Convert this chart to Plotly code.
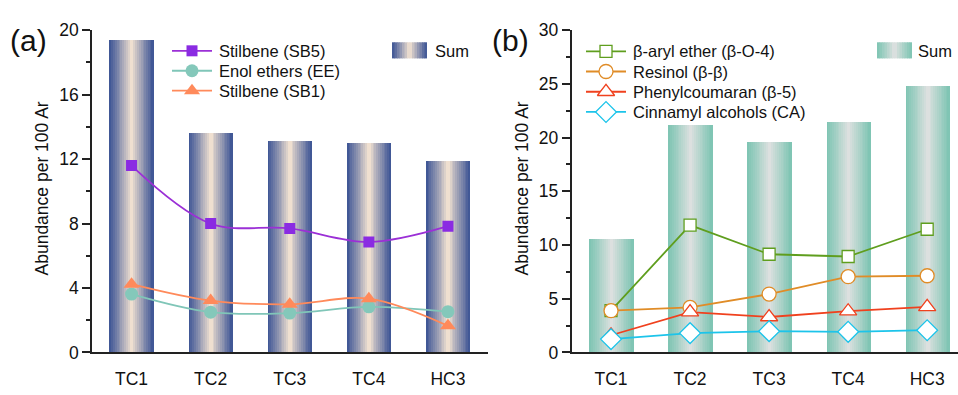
import plotly.graph_objects as go

W, H = 958, 395

categories = ["TC1", "TC2", "TC3", "TC4", "HC3"]

# Panel (a)
sum_a = [19.35, 13.6, 13.1, 12.97, 11.9]
sb5 = [11.6, 8.0, 7.7, 6.86, 7.84]
ee = [3.62, 2.5, 2.44, 2.83, 2.53]
sb1 = [4.24, 3.22, 2.99, 3.34, 1.65]

# Panel (b)
sum_b = [10.52, 21.2, 19.6, 21.4, 24.76]
bo4 = [3.9, 11.85, 9.14, 8.93, 11.47]
resinol = [3.89, 4.19, 5.43, 7.05, 7.14]
b5 = [1.6, 3.75, 3.3, 3.84, 4.25]
ca = [1.24, 1.8, 1.98, 1.92, 2.07]

ticks_a = [0, 4, 8, 12, 16, 20]
ticks_b = [0, 5, 10, 15, 20, 25, 30]

FONT = "Liberation Sans, Arial, sans-serif"
TXT = "#111"


def px_x(p):
    return p / W


def px_y(p):
    return 1 - p / H


def mix(c1, c2, t):
    return "rgb(%d,%d,%d)" % tuple(round(a + (b - a) * t) for a, b in zip(c1, c2))


BLUE = (58, 82, 148)
CREAM = (250, 232, 212)
TEAL = (124, 196, 178)
GRAY = (226, 226, 226)

fig = go.Figure()

BW = 0.56
N = 24


def gradient_bars(xaxis, yaxis, values, edge, center):
    for i in range(N):
        pos = (i + 0.5) / N
        t = abs(pos - 0.5) * 2
        col = mix(center, edge, t ** 0.9)
        w = BW / N
        width = w * 1.6 if i < N - 1 else w
        fig.add_trace(go.Bar(
            x=categories, y=values, xaxis=xaxis, yaxis=yaxis,
            width=width, offset=-BW / 2 + i * w,
            marker=dict(color=col, line=dict(width=0)),
            showlegend=False, hoverinfo="skip",
        ))


gradient_bars("x", "y", sum_a, BLUE, CREAM)
gradient_bars("x2", "y2", sum_b, TEAL, GRAY)

series_a = [
    (sb5, "Stilbene (SB5)", "#9b30d6", dict(symbol="square", size=11, color="#8a2be2")),
    (ee, "Enol ethers (EE)", "#80c6b8", dict(symbol="circle", size=13, color="#84c8ba")),
    (sb1, "Stilbene (SB1)", "#ff8a5b", dict(symbol="triangle-up", size=14, color="#ff8a5b")),
]


def open_marker(symbol, size, color):
    return dict(symbol=symbol, size=size, color="white", line=dict(color=color, width=1.3))


series_b = [
    (bo4, "β-aryl ether (β-O-4)", "#5f9e1e", open_marker("square", 12, "#5f9e1e")),
    (resinol, "Resinol (β-β)", "#e08c27", open_marker("circle", 14, "#e08c27")),
    (b5, "Phenylcoumaran (β-5)", "#f0411e", open_marker("triangle-up", 15, "#f0411e")),
    (ca, "Cinnamyl alcohols (CA)", "#1cc4ea", open_marker("diamond", 16, "#1cc4ea")),
]

for vals, name, lc, mk in series_a:
    fig.add_trace(go.Scatter(x=categories, y=vals, name=name, mode="lines+markers",
                             line=dict(color=lc, width=1.8, shape="spline"), marker=mk,
                             showlegend=False, xaxis="x", yaxis="y"))
for vals, name, lc, mk in series_b:
    fig.add_trace(go.Scatter(x=categories, y=vals, name=name, mode="lines+markers",
                             line=dict(color=lc, width=1.8), marker=mk,
                             showlegend=False, xaxis="x2", yaxis="y2"))

annotations = []


def draw_legend(series, x_line0, y0, dy):
    for k, (vals, name, lc, mk) in enumerate(series):
        yy = y0 + k * dy
        fig.add_trace(go.Scatter(x=[x_line0, x_line0 + 40], y=[yy, yy], mode="lines",
                                 line=dict(color=lc, width=1.8), showlegend=False,
                                 hoverinfo="skip", xaxis="x3", yaxis="y3"))
        fig.add_trace(go.Scatter(x=[x_line0 + 20], y=[yy], mode="markers", marker=mk,
                                 showlegend=False, hoverinfo="skip", xaxis="x3", yaxis="y3"))
        annotations.append(dict(text=name, x=px_x(x_line0 + 45), y=px_y(yy), xref="paper",
                                yref="paper", xanchor="left", yanchor="middle", showarrow=False,
                                font=dict(family=FONT, size=16.5, color=TXT)))


draw_legend(series_a, 172, 43, 21)
draw_legend(series_b, 586, 43.5, 21.3)

ydom = [px_y(360.7), px_y(21.3)]
axis_common = dict(showline=True, linecolor="#222", linewidth=1.5, showgrid=False,
                   zeroline=False, tickfont=dict(family=FONT, size=17.5, color=TXT))

fig.update_layout(
    width=W, height=H, margin=dict(l=0, r=0, t=0, b=0),
    paper_bgcolor="white", plot_bgcolor="rgba(0,0,0,0)",
    barmode="overlay", bargap=0, showlegend=False,
    font=dict(family=FONT, size=16, color=TXT),
    xaxis=dict(domain=[px_x(92), px_x(487.5)], range=[-0.5, 4.5], anchor="y",
               ticks="", ticklabelstandoff=10, **axis_common),
    yaxis=dict(domain=ydom, range=[0, 20], anchor="x", tickvals=ticks_a,
               ticks="outside", ticklen=8, tickwidth=1.5, tickcolor="#222",
               minor=dict(dtick=2, ticks="outside", ticklen=4, tickwidth=1.5, tickcolor="#222"),
               **axis_common),
    xaxis2=dict(domain=[px_x(571.5), 1.0], range=[-0.5, 4.39], anchor="y2",
                ticks="", ticklabelstandoff=10, **axis_common),
    yaxis2=dict(domain=ydom, range=[0, 30], anchor="x2", tickvals=ticks_b,
                ticks="outside", ticklen=8, tickwidth=1.5, tickcolor="#222",
                minor=dict(dtick=2.5, ticks="outside", ticklen=4, tickwidth=1.5, tickcolor="#222"),
                **axis_common),
    xaxis3=dict(domain=[0, 1], range=[0, W], anchor="y3", visible=False, fixedrange=True),
    yaxis3=dict(domain=[0, 1], range=[H, 0], anchor="x3", visible=False, fixedrange=True),
)

annotations += [
    dict(text="(a)", x=px_x(28), y=px_y(32), xref="paper", yref="paper",
         xanchor="center", yanchor="middle",
         showarrow=False, font=dict(family=FONT, size=30, color=TXT)),
    dict(text="(b)", x=px_x(511), y=px_y(32), xref="paper", yref="paper",
         xanchor="center", yanchor="middle",
         showarrow=False, font=dict(family=FONT, size=30, color=TXT)),
    dict(text="Abundance per 100 Ar", x=px_x(42), y=px_y(188),
         xref="paper", yref="paper", textangle=-90, showarrow=False,
         xanchor="center", yanchor="middle",
         font=dict(family=FONT, size=17.5, color=TXT)),
    dict(text="Abundance per 100 Ar", x=px_x(522), y=px_y(188),
         xref="paper", yref="paper", textangle=-90, showarrow=False,
         xanchor="center", yanchor="middle",
         font=dict(family=FONT, size=17.5, color=TXT)),
    dict(text="Sum", x=px_x(433), y=px_y(43), xref="paper", yref="paper",
         xanchor="left", yanchor="middle", showarrow=False,
         font=dict(family=FONT, size=16.5, color=TXT)),
    dict(text="Sum", x=px_x(916), y=px_y(43), xref="paper", yref="paper",
         xanchor="left", yanchor="middle", showarrow=False,
         font=dict(family=FONT, size=16.5, color=TXT)),
]

shapes = []


def legend_patch(x0, x1, y0, y1, edge, center, n=14):
    w = (x1 - x0) / n
    for i in range(n):
        pos = (i + 0.5) / n
        t = abs(pos - 0.5) * 2
        col = mix(center, edge, t ** 0.9)
        shapes.append(dict(type="rect", xref="paper", yref="paper",
                           x0=px_x(x0 + i * w), x1=px_x(x0 + (i + 1) * w + (0.6 if i < n - 1 else 0)),
                           y0=px_y(y1), y1=px_y(y0), fillcolor=col, line=dict(width=0),
                           layer="above"))


legend_patch(392, 427, 34, 51, BLUE, CREAM)
legend_patch(877, 912, 34, 51, TEAL, GRAY)

fig.update_layout(annotations=annotations, shapes=shapes)

fig.write_html("out.html")
